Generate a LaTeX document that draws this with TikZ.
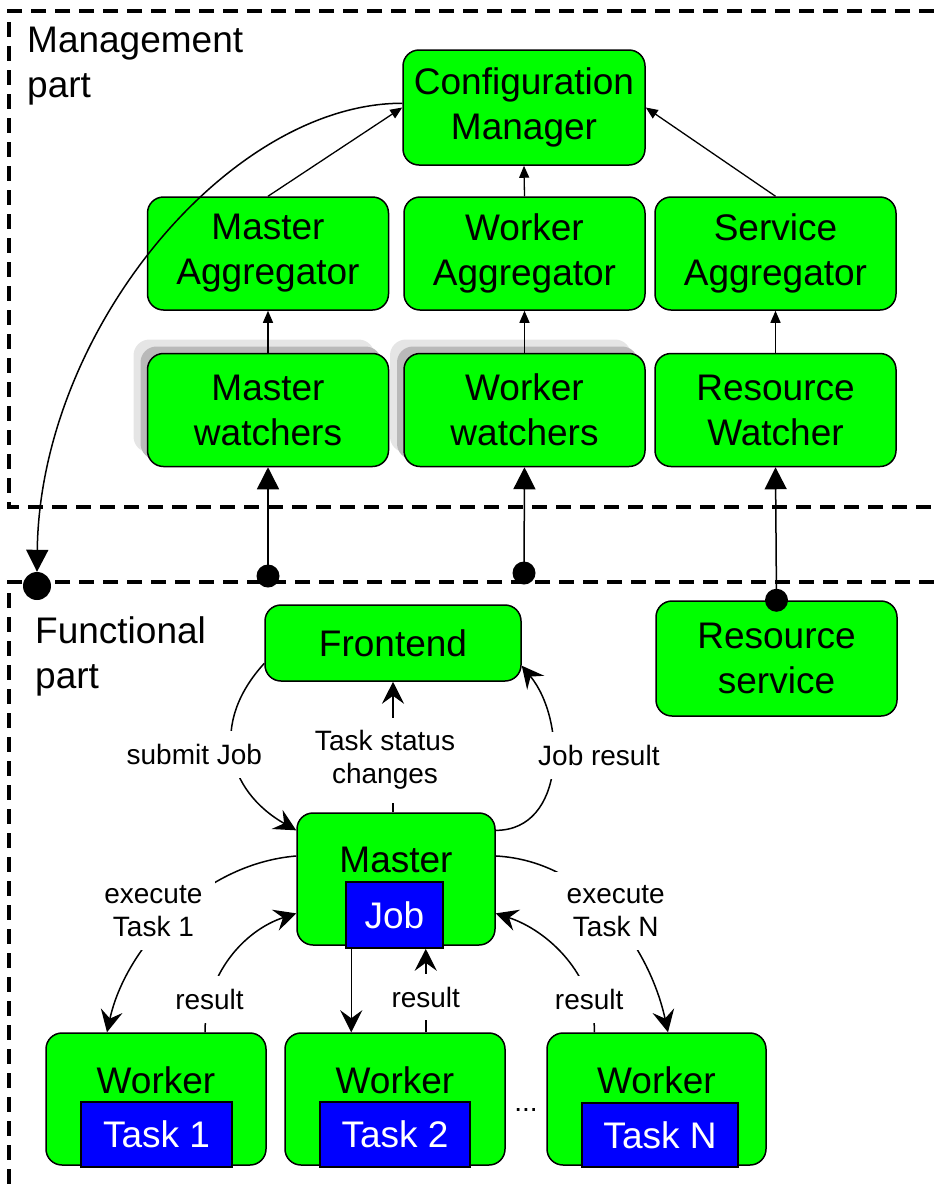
\documentclass[tikz,border=0pt]{standalone}
\usepackage{fontspec}
\setmainfont{Liberation Sans}
\usetikzlibrary{arrows.meta,shadows}
\newcommand\boxfont{\fontsize{37}{45}\selectfont}
\newcommand\edgefont{\fontsize{28}{33}\selectfont}
\begin{document}
\begin{tikzpicture}[x=1pt, y=1pt,
    box/.style={draw, line width=1.5pt, fill=green, rounded corners=16pt, align=center, font=\boxfont, inner sep=0pt, minimum width=241pt, minimum height=113pt},
    stack/.style={copy shadow={shadow xshift=-14pt, shadow yshift=14pt, fill=gray!20, draw=none}, copy shadow={shadow xshift=-7pt, shadow yshift=7pt, fill=gray!55, draw=none}},
    task/.style={draw, line width=1.5pt, fill=blue, text=white, font=\boxfont, inner sep=0pt},
    lbl/.style={fill=white, font=\edgefont, align=center, inner sep=13pt},
    part/.style={align=left, font=\boxfont, anchor=west, inner sep=0pt},
    frame/.style={line width=3.6pt, dash pattern=on 15pt off 9pt},
    up/.style={-{Triangle[length=12pt,width=10pt]}, line width=1.3pt},
    feed/.style={-{Triangle[length=22pt,width=22pt]}, line width=1.5pt},
    flow/.style={-{Stealth[length=22pt,width=22pt,inset=8pt]}, line width=1.5pt},
    dot/.style={circle, fill, inner sep=0pt, minimum size=23pt}]
  \useasboundingbox (0,0) rectangle (934,-1184);
  % the two parts
  \draw[frame] (934,-11) -- (9,-11) -- (9,-507) -- (934,-507);
  \draw[frame] (934,-582) -- (9,-582) -- (9,-1184);
  \node[part] (mgmt) at (27,-66) {Management\\part};
  \node[part] (func) at (35,-656) {Functional\\part};

  % management part
  \node[box, minimum width=242pt, minimum height=115pt] (config) at (524,-107.5) {Configuration\\Manager};
  \node[box] (magg) at (268,-253.5) {Master\\Aggregator};
  \node[box] (wagg) at (524.5,-253.5) {Worker\\Aggregator};
  \node[box] (sagg) at (775.5,-253.5) {Service\\Aggregator};
  \node[box, stack] (mwat) at (268,-410) {Master\\watchers};
  \node[box, stack] (wwat) at (524.5,-410) {Worker\\watchers};
  \node[box] (rwat) at (775.5,-410) {Resource\\Watcher};

  % functional part
  \node[box, minimum width=256pt, minimum height=76pt] (frontend) at (393,-643) {Frontend};
  \node[box, minimum height=115pt] (rservice) at (776.5,-658.5) {Resource\\service};
  \node[box, minimum width=198pt, minimum height=132pt] (master) at (396,-879) {};
  \node[font=\boxfont] (mastername) at (396,-860) {Master};
  \node[task, minimum width=97pt, minimum height=66pt] (job) at (394.5,-915) {Job};
  \node[box, minimum width=220pt, minimum height=132pt] (w1) at (156,-1099) {};
  \node[font=\boxfont] (w1name) at (156,-1080) {Worker};
  \node[task, minimum width=151pt, minimum height=65pt] (t1) at (156.5,-1134.5) {Task 1};
  \node[box, minimum width=220pt, minimum height=132pt] (w2) at (395,-1099) {};
  \node[font=\boxfont] (w2name) at (395,-1080) {Worker};
  \node[task, minimum width=150pt, minimum height=65pt] (t2) at (395,-1134.5) {Task 2};
  \node[box, minimum width=219pt, minimum height=132pt] (w3) at (656.5,-1099) {};
  \node[font=\boxfont] (w3name) at (656.5,-1080) {Worker};
  \node[task, minimum width=156pt, minimum height=64pt] (tn) at (660,-1135) {Task N};
  \node[font=\edgefont] (dots) at (526,-1110) {...};

  % attach points
  \node[dot, minimum size=28pt] (ldot) at (37,-586) {};
  \node[dot] (mdot) at (268,-576) {};
  \node[dot] (wdot) at (524,-573) {};
  \node[dot] (rdot) at (rservice.north) {};

  \draw[up] (magg.north) -- (config.west);
  \draw[up] (wagg.north) -- (config.south);
  \draw[up] (sagg.north) -- (config.east);
  \draw[up] (mwat.north) -- (magg.south);
  \draw[up] (wwat.north) -- (wagg.south);
  \draw[up] (rwat.north) -- (sagg.south);
  \draw[feed] (mdot.center) -- (mwat.south);
  \draw[feed] (wdot.center) -- (wwat.south);
  \draw[feed] (rdot.center) -- (rwat.south);
  \draw[feed] (config.178) .. controls +(-173,0) and +(3,241) .. (ldot.north);

  \draw[flow] (frontend.189) .. controls +(-55,-60) and +(-70,40) .. node[lbl, pos=0.5, xshift=-39pt] {submit Job} (master.154);
  \draw[flow] (frontend.south |- master.north) -- node[lbl, pos=0.4, xshift=-8pt] {Task status\\changes} (frontend.south);
  \draw[flow] (master.26) .. controls +(70,0) and +(45,-55) .. node[lbl, pos=0.5, xshift=47pt, yshift=13pt] {Job result} (frontend.-10);
  \draw[flow] (master.167) .. controls +(-96,-8) and +(18,83) .. node[lbl, pos=0.5, xshift=-19pt, yshift=5pt] {execute\\Task 1} ([xshift=-49pt]w1.north);
  \draw[flow] ([xshift=49pt]w1.north) .. controls +(0,58) and +(-52,-17) .. node[lbl, pos=0.2] {result} (master.199);
  \draw[flow] ([xshift=6pt]job.south west) -- ([xshift=6pt]job.south west |- w2.north);
  \draw[flow] ([xshift=-18pt]job.south east |- w2.north) -- node[lbl, pos=0.42] {result} ([xshift=-18pt]job.south east);
  \draw[flow] (master.13) .. controls +(95,-5) and +(-18,83) .. node[lbl, pos=0.5, xshift=5pt, yshift=4pt] {execute\\Task N} ([xshift=11.5pt]w3.north);
  \draw[flow] ([xshift=-62pt]w3.north) .. controls +(0,58) and +(52,-17) .. node[lbl, pos=0.2] {result} (master.-19);
\end{tikzpicture}
\end{document}
